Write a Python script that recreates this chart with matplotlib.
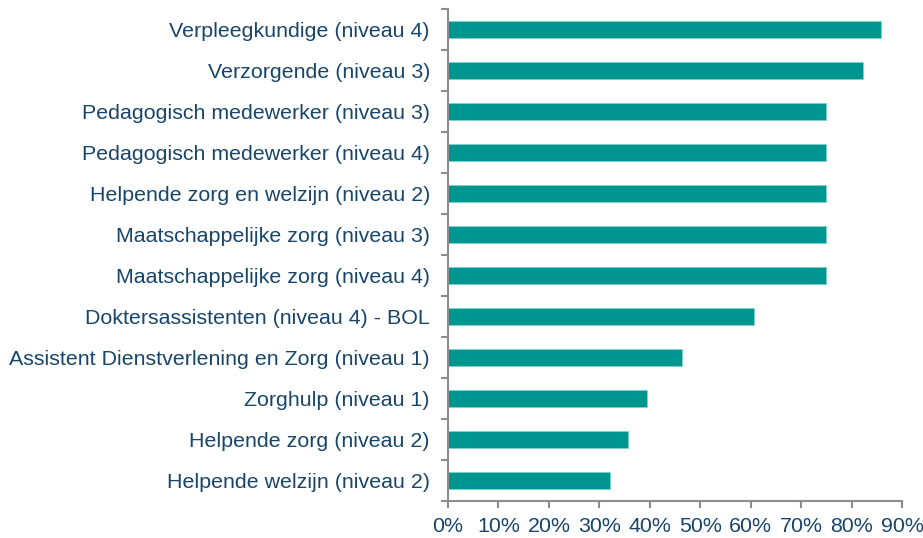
import numpy as np
import matplotlib.pyplot as plt
from matplotlib.ticker import FixedLocator, PercentFormatter

plt.rcParams['font.family'] = ['Liberation Sans', 'DejaVu Sans']

labels = [
    'Verpleegkundige (niveau 4)',
    'Verzorgende (niveau 3)',
    'Pedagogisch medewerker (niveau 3)',
    'Pedagogisch medewerker (niveau 4)',
    'Helpende zorg en welzijn (niveau 2)',
    'Maatschappelijke zorg (niveau 3)',
    'Maatschappelijke zorg (niveau 4)',
    'Doktersassistenten (niveau 4) - BOL',
    'Assistent Dienstverlening en Zorg (niveau 1)',
    'Zorghulp (niveau 1)',
    'Helpende zorg (niveau 2)',
    'Helpende welzijn (niveau 2)',
]
values = [85.8, 82.2, 75.0, 75.0, 75.0, 75.0, 75.0, 60.7, 46.4, 39.4, 35.7, 32.1]

bar_color = '#009690'
text_color = '#17456B'
axis_color = '#8C8C8C'

fig = plt.figure(figsize=(9.23, 5.38), dpi=100)
ax = fig.add_axes([0.4854, 0.0688, 0.4919, 0.9145])

y = np.arange(len(labels))[::-1]
ax.barh(y, values, height=0.42, color=bar_color, edgecolor='#7FD3CF', linewidth=0.6)

ax.set_xlim(0, 90)
ax.set_ylim(-0.5, len(labels) - 0.5)
ax.set_xticks(np.arange(0, 91, 10))
ax.xaxis.set_major_formatter(PercentFormatter(decimals=0))
ax.set_yticks(y)
ax.set_yticklabels(labels)
ax.yaxis.set_minor_locator(FixedLocator(np.arange(-0.5, len(labels), 1)))

ax.tick_params(axis='y', which='major', length=0, pad=13, labelsize=15.4, labelcolor=text_color)
ax.tick_params(axis='y', which='minor', length=5, width=1.5, color=axis_color, direction='out')
ax.tick_params(axis='x', length=5, width=1.5, color=axis_color, labelsize=15.4, labelcolor=text_color, pad=6.5)

for s in ['top', 'right']:
    ax.spines[s].set_visible(False)
for s in ['left', 'bottom']:
    ax.spines[s].set_color(axis_color)
    ax.spines[s].set_linewidth(1.5)

fig.savefig('out.png', dpi=100)
